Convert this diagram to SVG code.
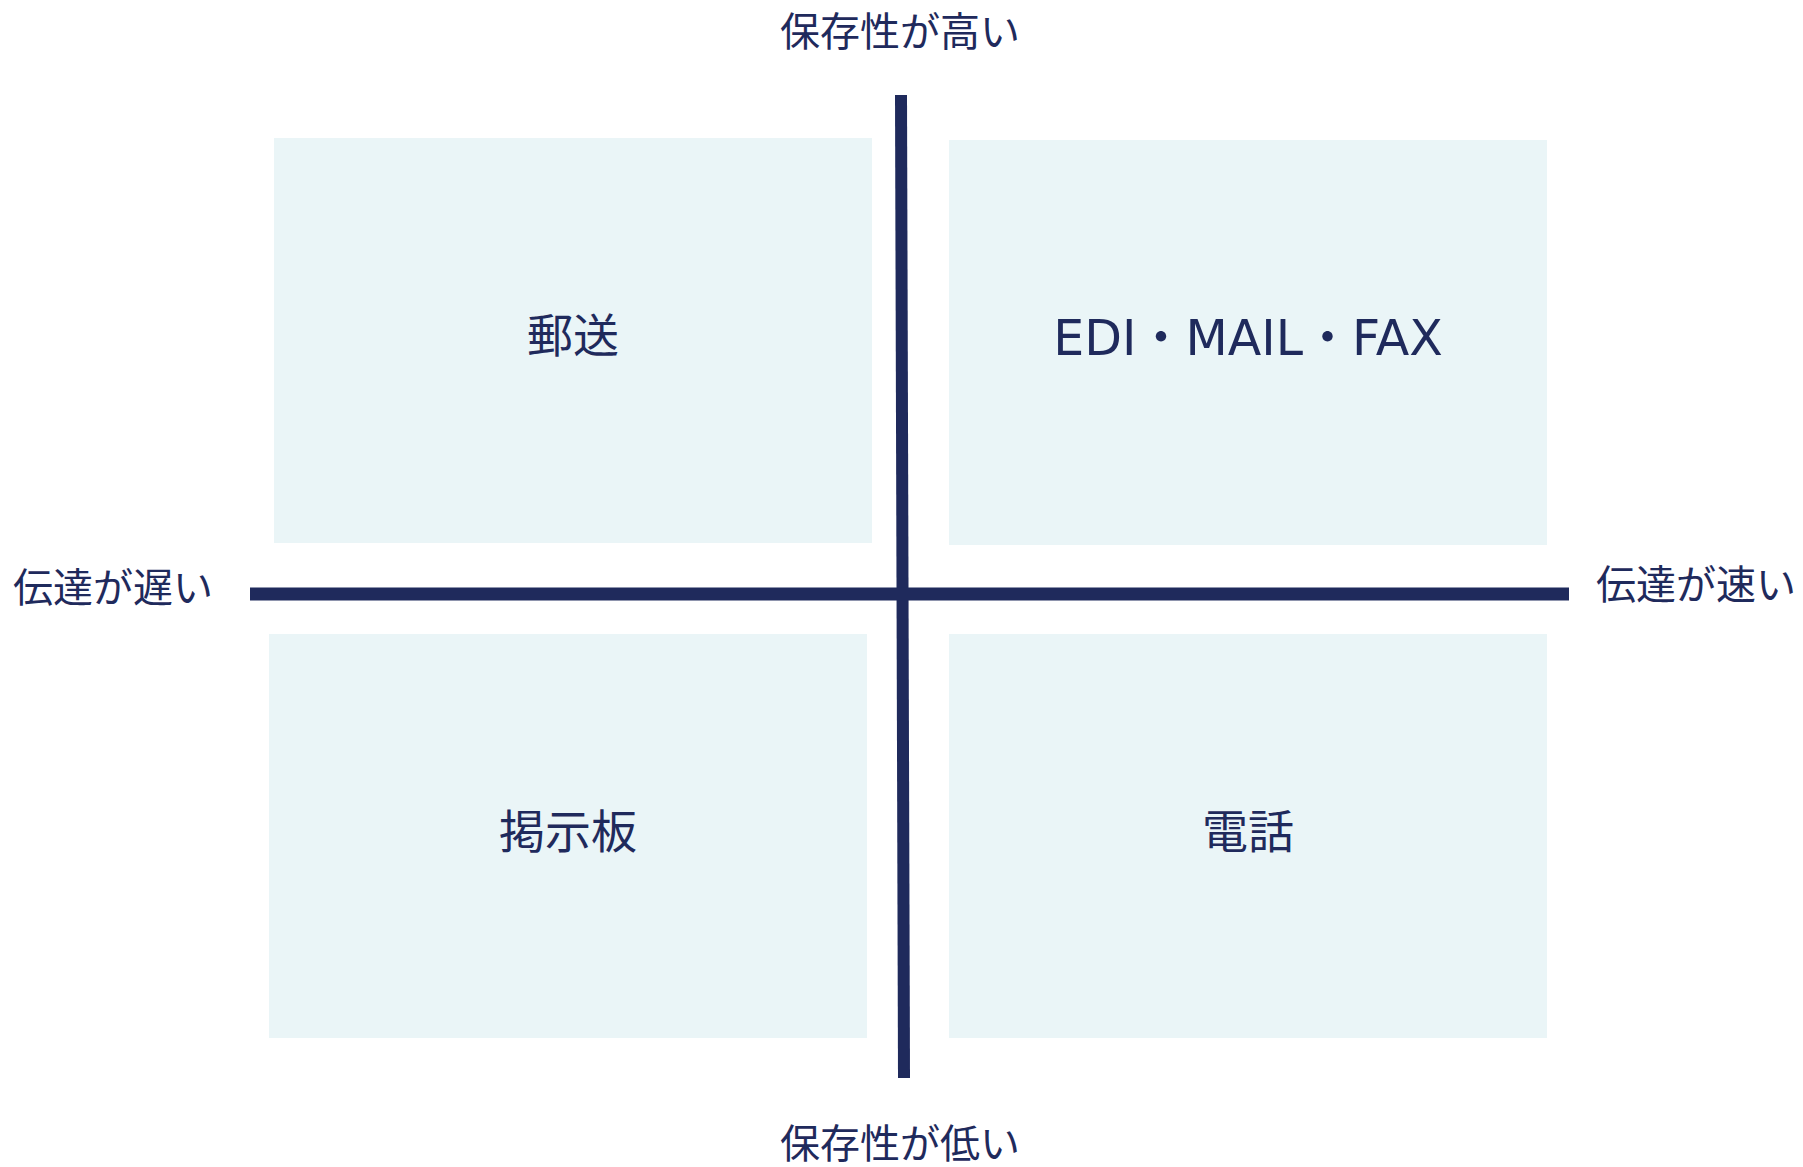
<svg xmlns="http://www.w3.org/2000/svg" width="1803" height="1167" viewBox="0 0 1803 1167">
<style>
.box{fill:#EAF5F7}
.axis{stroke:#1F2A5C;fill:none;stroke-linecap:butt}
.jp{font-family:"Noto Sans CJK JP","Noto Sans CJK SC",sans-serif;fill:#1F2A5C}
.lat{font-family:"DejaVu Sans","Noto Sans CJK JP",sans-serif;fill:#1F2A5C}
.ax{font-size:40px}
.lb{font-size:46px}
</style>
<rect width="1803" height="1167" fill="#FFFFFF"/>
<g id="quadrant-tl">
<rect class="box" x="274" y="138" width="598" height="405"/>
<text class="jp lb" x="573" y="352" text-anchor="middle">郵送</text>
</g>
<g id="quadrant-tr">
<rect class="box" x="949" y="140" width="598" height="405"/>
<text class="lat" font-size="49" x="1248" y="355" text-anchor="middle">EDI・MAIL・FAX</text>
</g>
<g id="quadrant-bl">
<rect class="box" x="269" y="634" width="598" height="404"/>
<text class="jp lb" x="568" y="848" text-anchor="middle">掲示板</text>
</g>
<g id="quadrant-br">
<rect class="box" x="949" y="634" width="598" height="404"/>
<text class="jp lb" x="1248" y="848" text-anchor="middle">電話</text>
</g>
<g id="connectors">
<line class="axis" x1="901" y1="95" x2="904" y2="1078" stroke-width="12"/>
<line class="axis" x1="250" y1="594" x2="1569" y2="594" stroke-width="13"/>
</g>
<g id="label-top"><text class="jp ax" x="900" y="46" text-anchor="middle">保存性が高い</text></g>
<g id="label-bottom"><text class="jp ax" x="900" y="1158" text-anchor="middle">保存性が低い</text></g>
<g id="label-left"><text class="jp ax" x="13" y="602">伝達が遅い</text></g>
<g id="label-right"><text class="jp ax" x="1596" y="599">伝達が速い</text></g>
</svg>
